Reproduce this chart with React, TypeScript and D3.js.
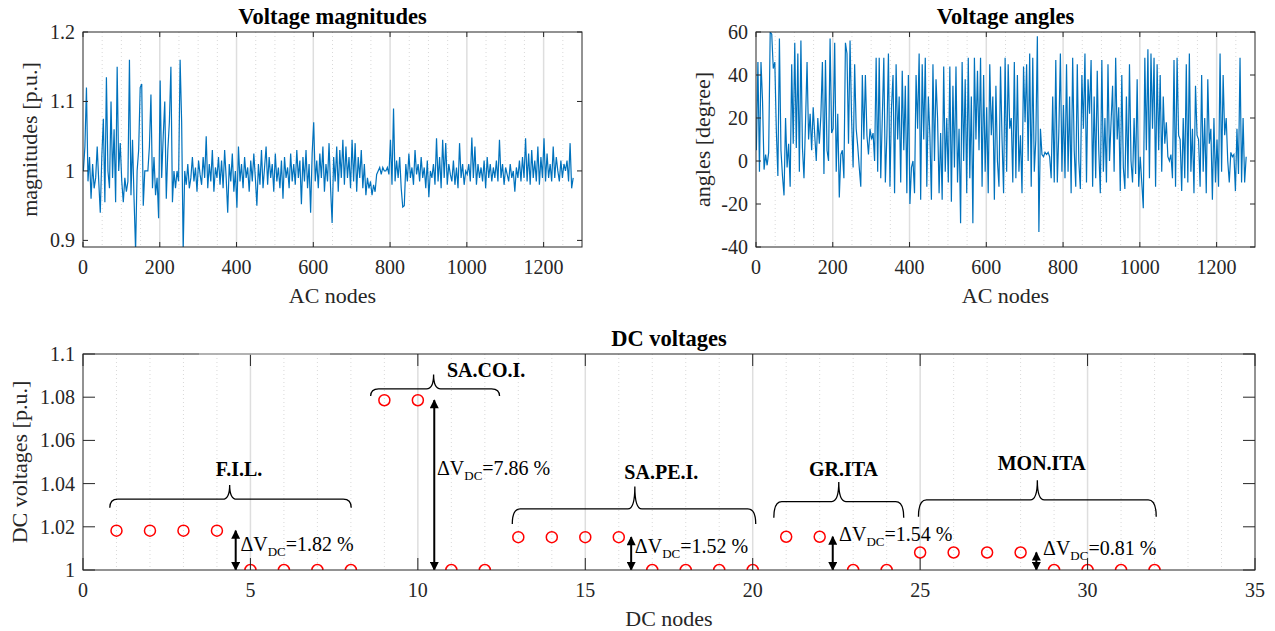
import React from "react";
import * as d3 from "d3";

const FONT = "'Liberation Serif', 'Times New Roman', serif";
const INK = "#262626";
const LINE = "#0072BD";

// AC voltage magnitudes [p.u.], read every 4th node
const magnitudeValues = [
  1.0, 1.035, 1.12, 0.985, 1.02, 0.96, 1.01, 0.975, 0.99, 1.035,
  0.985, 0.94, 1.02, 1.075, 0.955, 1.135, 1.0, 0.975, 1.1, 0.99,
  1.06, 0.955, 1.15, 1.0, 1.04, 0.985, 0.955, 0.99, 0.97, 0.985,
  1.16, 0.965, 1.045, 0.96, 0.885, 1.0, 1.03, 1.12, 1.125, 0.95,
  1.0, 1.0, 1.0, 1.035, 1.11, 0.975, 1.02, 0.965, 0.99, 0.932,
  1.13, 0.99, 1.05, 1.1, 0.96, 1.03, 1.07, 1.15, 0.955, 1.0,
  0.975, 1.0, 0.985, 1.16, 1.07, 0.885, 1.0, 0.98, 1.01, 0.975,
  0.99, 1.02, 0.985, 1.005, 0.97, 1.015, 0.995, 0.98, 1.02, 0.99,
  1.05, 0.975, 1.01, 0.985, 1.03, 0.97, 1.005, 0.99, 1.02, 0.98,
  1.015, 0.975, 1.03, 0.99, 0.94, 1.01, 0.985, 1.025, 0.97, 1.0,
  0.947, 1.035, 0.985, 1.01, 0.975, 1.02, 0.99, 1.005, 0.97, 1.015,
  0.985, 1.025, 0.99, 0.95, 1.01, 0.98, 1.03, 0.975, 1.005, 1.035,
  0.98, 1.02, 0.99, 1.01, 0.97, 1.025, 0.985, 1.005, 0.975, 1.015,
  0.96, 1.02, 0.99, 1.005, 0.975, 1.025, 0.985, 1.01, 0.98, 1.03,
  0.99, 1.015, 0.952, 1.02, 0.985, 1.03, 0.975, 1.01, 0.94, 1.025,
  1.07, 0.985, 1.015, 0.975, 1.025, 0.99, 1.035, 0.97, 1.01, 0.985,
  1.04, 0.975, 0.925, 1.02, 0.985, 1.035, 0.97, 1.03, 0.99, 1.045,
  0.98, 1.035, 0.99, 1.02, 0.975, 1.045, 0.985, 1.04, 0.97, 1.02,
  0.99, 1.03, 0.975, 1.01, 0.965, 0.99, 0.975, 0.985, 0.965, 0.98,
  0.97, 0.995, 1.0, 1.005, 0.995, 1.005, 1.0, 1.0, 1.005, 0.995,
  1.045, 0.98, 1.09, 0.985, 1.015, 0.99, 1.02, 0.975, 0.948, 0.95,
  1.01, 0.985, 1.025, 0.99, 1.005, 0.98, 1.03, 0.995, 1.01, 0.985,
  1.02, 0.99, 1.005, 0.975, 1.015, 0.962, 1.0, 0.99, 1.01, 0.98,
  1.047, 0.985, 1.02, 0.975, 1.045, 0.99, 1.04, 0.98, 1.01, 0.995,
  0.985, 1.015, 0.98, 1.005, 0.975, 1.04, 0.99, 1.01, 0.98, 1.0,
  0.995, 1.01, 0.985, 1.048, 0.99, 1.035, 0.98, 1.01, 0.99, 1.005,
  0.985, 1.015, 0.975, 1.02, 0.99, 1.01, 0.985, 1.005, 0.99, 1.015,
  0.985, 1.045, 0.99, 1.01, 0.98, 1.005, 0.995, 0.985, 1.01, 0.99,
  1.0, 0.97, 1.005, 0.99, 1.015, 0.985, 1.02, 0.99, 1.047, 0.985,
  1.025, 0.98, 1.03, 0.99, 1.015, 0.985, 1.035, 0.98, 1.02, 0.99,
  1.047, 0.985, 1.025, 0.99, 1.01, 0.985, 1.035, 0.99, 1.02, 1.0,
  0.985, 1.015, 0.99, 1.01, 1.0, 1.015, 0.985, 1.04, 0.975, 0.99,
];

// AC voltage angles [degree], read every 4th node
const angleValues = [
  5, 46, -5, 46, 28, -4, 3, -2, 4, 60,
  59, 43, 46, 14, -7, 57, 5, -7, -16, 20,
  -3, 8, -12, 45, 8, 55, 6, 50, -5, 56,
  6, -8, 18, 46, 10, 22, 5, 25, 12, 0,
  20, 8, 21, 46, -6, 47, 5, 0, 57, 13,
  15, 55, -5, 22, -17, 3, 5, -8, 55, 50,
  8, 56, 20, -3, 45, 15, 7, -3, -12, 40,
  10, 40, 12, 3, 15, 10, 13, 0, 48, -5,
  48, -8, 20, 48, -10, 12, 50, -12, 25, 40,
  -15, 45, 10, 30, -10, 42, 5, 35, -15, 40,
  -20, -3, 0, -15, 40, 15, 50, -18, 45, 10,
  48, -12, 30, 12, -18, 45, 0, 38, 20, -15,
  13, -18, 44, -5, 20, -10, 44, -19, 35, -3,
  44, -10, 15, -29, 46, 0, 38, -15, 48, -8,
  30, -29, 48, 10, 42, 5, 48, -12, 40, -5,
  25, -15, 45, 12, 30, -18, 35, 0, -12, 44,
  10, -15, 48, -5, 45, 15, 20, -10, 46, -8,
  40, -5, 12, -15, 44, 18, 45, 0, 50, -12,
  48, -5, 10, 58, -33, 15, 3, 2, 4, 3,
  4, 2, -8, 30, -10, 47, -10, 14, 50, -5,
  26, -8, 45, -5, 30, -15, 48, 5, -12, 45,
  0, -13, 40, 15, 50, -10, 38, 22, 47, -12,
  30, -8, 42, 5, -15, 47, -5, 20, -10, 45,
  0, 18, 35, -5, 48, 10, 25, -14, 40, -3,
  -13, 30, -8, 45, 0, -10, 20, -6, 38, -12,
  2, -10, -22, 48, 5, 52, -8, 50, 15, 48,
  -12, 45, 5, 40, -5, 30, 8, 18, 2, 0,
  3, -8, 47, -12, 48, 12, 10, -14, 20, -8,
  45, -10, 50, -5, 15, -15, 35, 12, 10, -12,
  40, -5, 20, -15, 38, 8, 15, -18, 20, -10,
  10, -12, 50, -5, 40, 12, 20, 0, -10, 4,
  2, 3, -14, 15, -6, 48, -10, 20, -10, 2,
];

const acNodes = magnitudeValues.map((_, i) => 1 + 4 * i);

// DC side
const dcNodes = d3.range(1, 33);
const dcVoltages = [
  1.0182, 1.0182, 1.0182, 1.0182, 1.0, 1.0, 1.0, 1.0,
  1.0786, 1.0786, 1.0, 1.0,
  1.0152, 1.0152, 1.0152, 1.0152, 1.0, 1.0, 1.0, 1.0,
  1.0154, 1.0154, 1.0, 1.0,
  1.0081, 1.0081, 1.0081, 1.0081, 1.0, 1.0, 1.0, 1.0,
];

const groupNames = ["F.I.L.", "SA.CO.I.", "SA.PE.I.", "GR.ITA", "MON.ITA"];
const deltaLabels = ["1.82", "7.86", "1.52", "1.54", "0.81"];
const deltaTop = [1.0182, 1.0786, 1.0152, 1.0154, 1.0081];

// annotation placement (data units)
const braces = [
  { x0: 0.8, x1: 8.01, tip: 4.38, yH: 1.0328, yEnd: 1.0288, yTip: 1.0394, lx: 4.66, ly: 1.0433, anchor: "middle" },
  { x0: 8.59, x1: 12.44, tip: 10.47, yH: 1.0839, yEnd: 1.0805, yTip: 1.0905, lx: 10.87, ly: 1.0895, anchor: "start" },
  { x0: 12.82, x1: 20.09, tip: 16.48, yH: 1.0283, yEnd: 1.0213, yTip: 1.0387, lx: 17.27, ly: 1.042, anchor: "middle" },
  { x0: 20.63, x1: 24.51, tip: 22.57, yH: 1.0317, yEnd: 1.0242, yTip: 1.0407, lx: 22.71, ly: 1.0436, anchor: "middle" },
  { x0: 24.95, x1: 32.05, tip: 28.5, yH: 1.0325, yEnd: 1.0247, yTip: 1.0416, lx: 28.63, ly: 1.0461, anchor: "middle" },
];
const arrows = [
  { x: 4.56, tx: 4.7, ty: 1.0088 },
  { x: 10.49, tx: 10.57, ty: 1.0441 },
  { x: 16.37, tx: 16.48, ty: 1.0077 },
  { x: 22.39, tx: 22.58, ty: 1.0135 },
  { x: 28.47, tx: 28.67, ty: 1.007 },
];

type Scale = d3.ScaleLinear<number, number>;

type AxesProps = {
  id: string;
  left: number;
  top: number;
  width: number;
  height: number;
  xDomain: [number, number];
  yDomain: [number, number];
  xTicks: number[];
  yTicks: number[];
  xMajorGrid: number[];
  xMinorGrid: number[];
  yFmt: (v: number) => string;
  tickLen: number;
  title: string;
  xLabel: string;
  yLabel: string;
  yLabelX: number;
  children: (xs: Scale, ys: Scale) => React.ReactNode;
};

function Axes(p: AxesProps) {
  const xs = d3.scaleLinear().domain(p.xDomain).range([p.left, p.left + p.width]);
  const ys = d3.scaleLinear().domain(p.yDomain).range([p.top + p.height, p.top]);
  const bottom = p.top + p.height;
  const right = p.left + p.width;
  const cx = p.left + p.width / 2;
  const cy = p.top + p.height / 2;
  return (
    <g>
      <defs>
        <clipPath id={p.id}>
          <rect x={p.left} y={p.top} width={p.width} height={p.height} />
        </clipPath>
      </defs>
      {p.xMinorGrid.map((v) => (
        <line key={"mi" + v} x1={xs(v)} x2={xs(v)} y1={p.top} y2={bottom}
          stroke="#cfcfcf" strokeWidth={0.8} strokeDasharray="1,3" />
      ))}
      {p.xMajorGrid.map((v) => (
        <line key={"ma" + v} x1={xs(v)} x2={xs(v)} y1={p.top} y2={bottom}
          stroke="#dedede" strokeWidth={1.5} />
      ))}
      <g clipPath={`url(#${p.id})`}>{p.children(xs, ys)}</g>
      <rect x={p.left} y={p.top} width={p.width} height={p.height} fill="none" stroke={INK} strokeWidth={1} />
      {p.xTicks.map((v) => (
        <g key={"xt" + v}>
          <line x1={xs(v)} x2={xs(v)} y1={bottom} y2={bottom - p.tickLen} stroke={INK} />
          <line x1={xs(v)} x2={xs(v)} y1={p.top} y2={p.top + p.tickLen} stroke={INK} />
          <text x={xs(v)} y={bottom + 27} textAnchor="middle" fontSize={20} fill={INK}>{v}</text>
        </g>
      ))}
      {p.yTicks.map((v) => (
        <g key={"yt" + v}>
          <line x1={p.left} x2={p.left + p.tickLen} y1={ys(v)} y2={ys(v)} stroke={INK} />
          <line x1={right} x2={right - p.tickLen} y1={ys(v)} y2={ys(v)} stroke={INK} />
          <text x={p.left - 8} y={ys(v)} dy="0.35em" textAnchor="end" fontSize={20} fill={INK}>{p.yFmt(v)}</text>
        </g>
      ))}
      <text x={cx} y={p.top - 8} textAnchor="middle" fontSize={22.5} fontWeight="bold" fill="#000">{p.title}</text>
      <text x={cx} y={bottom + 56} textAnchor="middle" fontSize={22} fill={INK}>{p.xLabel}</text>
      <text transform={`translate(${p.yLabelX},${cy}) rotate(-90)`} textAnchor="middle" fontSize={22} fill={INK}>{p.yLabel}</text>
    </g>
  );
}

function bracePath(xs: Scale, ys: Scale, b: typeof braces[number]) {
  const x0 = xs(b.x0), x1 = xs(b.x1), xm = xs(b.tip);
  const yH = ys(b.yH), yE = ys(b.yEnd), yT = ys(b.yTip);
  const r = 8, r2 = 7;
  return `M${x0},${yE} Q${x0},${yH} ${x0 + r},${yH} L${xm - r2},${yH} Q${xm},${yH} ${xm},${yT} ` +
    `Q${xm},${yH} ${xm + r2},${yH} L${x1 - r},${yH} Q${x1},${yH} ${x1},${yE}`;
}

export default function App() {
  const acMinor = d3.range(50, 1300, 50).filter((v) => v % 200 !== 0);
  const acMajor = d3.range(200, 1300, 200);
  const dcMinor = d3.range(1, 35).filter((v) => v % 5 !== 0);
  const dcMajor = d3.range(5, 35, 5);

  return (
    <svg width={1275} height={631} style={{ display: "block", position: "absolute", left: 0, top: 0, background: "#fff" }}
      fontFamily={FONT}>
      <defs>
        <marker id="ah" viewBox="0 0 10 10" refX={9} refY={5} markerWidth={5} markerHeight={4.5}
          orient="auto-start-reverse" markerUnits="strokeWidth">
          <path d="M0,0 L10,5 L0,10 z" fill="#000" />
        </marker>
      </defs>
      <Axes id="c1" left={83} top={32} width={499} height={215}
        xDomain={[0, 1300]} yDomain={[0.8905, 1.2]}
        xTicks={d3.range(0, 1300, 200)} yTicks={[0.9, 1, 1.1, 1.2]}
        xMajorGrid={acMajor} xMinorGrid={acMinor}
        yFmt={(v) => d3.format("~g")(v)} tickLen={5}
        title="Voltage magnitudes" xLabel="AC nodes" yLabel="magnitudes [p.u.]" yLabelX={37}>
        {(xs, ys) => (
          <path fill="none" stroke={LINE} strokeWidth={1.2}
            d={d3.line<number>().x((_, i) => xs(acNodes[i])).y((v) => ys(v))(magnitudeValues) || ""} />
        )}
      </Axes>
      <Axes id="c2" left={756} top={32} width={499} height={215}
        xDomain={[0, 1300]} yDomain={[-40, 60]}
        xTicks={d3.range(0, 1300, 200)} yTicks={d3.range(-40, 61, 20)}
        xMajorGrid={acMajor} xMinorGrid={acMinor}
        yFmt={(v) => String(v)} tickLen={5}
        title="Voltage angles" xLabel="AC nodes" yLabel="angles [degree]" yLabelX={710}>
        {(xs, ys) => (
          <path fill="none" stroke={LINE} strokeWidth={1.2}
            d={d3.line<number>().x((_, i) => xs(acNodes[i])).y((v) => ys(v))(angleValues) || ""} />
        )}
      </Axes>
      <Axes id="c3" left={83} top={354} width={1172} height={216}
        xDomain={[0, 35]} yDomain={[1, 1.1]}
        xTicks={d3.range(0, 36, 5)} yTicks={d3.range(0, 6).map((k) => 1 + k * 0.02)}
        xMajorGrid={dcMajor} xMinorGrid={dcMinor}
        yFmt={(v) => d3.format("~g")(+v.toFixed(2))} tickLen={12}
        title="DC voltages" xLabel="DC nodes" yLabel="DC voltages [p.u.]" yLabelX={27}>
        {(xs, ys) => (
          <g>
            {braces.map((b, i) => (
              <g key={"b" + i}>
                <path d={bracePath(xs, ys, b)} fill="none" stroke="#000" strokeWidth={1.3} />
                <text x={xs(b.lx)} y={ys(b.ly)} textAnchor={b.anchor as any} fontSize={20}
                  fontWeight="bold" fill="#000">{groupNames[i]}</text>
              </g>
            ))}
            {arrows.map((a, i) => (
              <g key={"a" + i}>
                <line x1={xs(a.x)} x2={xs(a.x)} y1={ys(1)} y2={ys(deltaTop[i])}
                  stroke="#000" strokeWidth={2} markerStart="url(#ah)" markerEnd="url(#ah)" />
                <text x={xs(a.tx)} y={ys(a.ty)} fontSize={20} fill="#000">
                  <tspan>ΔV</tspan>
                  <tspan dy={5} fontSize={13}>DC</tspan>
                  <tspan dy={-5}>={deltaLabels[i]} %</tspan>
                </text>
              </g>
            ))}
            {dcNodes.map((n, i) => (
              <circle key={"m" + n} cx={xs(n)} cy={ys(dcVoltages[i])} r={5.5}
                fill="none" stroke="#ff0000" strokeWidth={1.5} />
            ))}
          </g>
        )}
      </Axes>
      <line x1={199} x2={330} y1={354} y2={354} stroke="#bdbdbd" strokeWidth={1.5} />
    </svg>
  );
}
